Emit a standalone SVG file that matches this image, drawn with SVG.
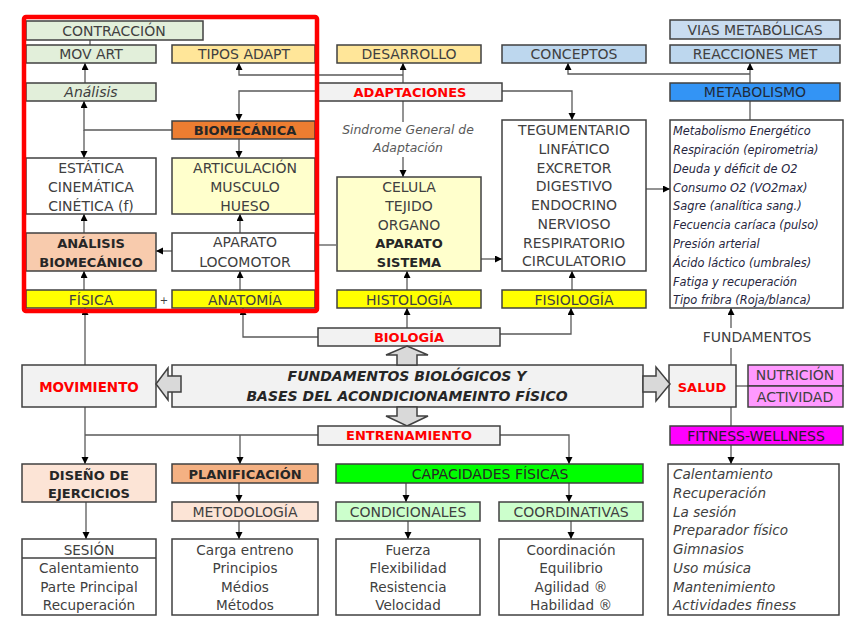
<svg xmlns="http://www.w3.org/2000/svg" width="848" height="636" viewBox="0 0 848 636">
<defs>
<marker id="ah" markerUnits="userSpaceOnUse" markerWidth="8" markerHeight="8" refX="7" refY="3.5" orient="auto"><path d="M0,0 L7,3.5 L0,7 z" fill="#000"/></marker>
<style>
rect.bx{stroke:#404040;stroke-width:1.5}
text{font-family:"DejaVu Sans","Liberation Sans",sans-serif;font-size:14px;fill:#404040;text-anchor:middle}
text.b{font-weight:bold;font-size:13px;fill:#262626}
text.r{font-weight:bold;font-size:13px;fill:#ff0000}
text.li{font-size:13.6px}
text.it{font-style:italic}
text.ml{font-style:italic;font-size:11.4px;text-anchor:start;fill:#262640}
text.fl{font-style:italic;font-size:13.6px;text-anchor:start}
text.big{font-weight:bold;font-style:italic;font-size:14px;fill:#262626}
#connectors path{fill:none;stroke:#595959;stroke-width:1.3}
#connectors path.a{marker-end:url(#ah)}
.blk{fill:#d9d9d9;stroke:#404040;stroke-width:1.5}
</style>
</defs>
<rect width="848" height="636" fill="#fff"/>

<g id="connectors">
<path d="M90,40 V45"/>
<path class="a" d="M85,83 V63"/>
<path class="a" d="M172,130 H84 V101"/>
<path class="a" d="M84,130 V158"/>
<path class="a" d="M239,139 V158"/>
<path class="a" d="M84,233 V214"/>
<path class="a" d="M240,233 V214"/>
<path class="a" d="M172,251 H156"/>
<path class="a" d="M84,290 V271"/>
<path class="a" d="M240,290 V271"/>
<path class="a" d="M318,91 H239 V121"/>
<path class="a" d="M403,83 V63"/>
<path class="a" d="M403,75 H239 V63"/>
<path class="a" d="M502,91 H572 V120"/>
<path d="M403,101 V122"/>
<path class="a" d="M403,157 V177"/>
<path d="M314,245 H336"/>
<path class="a" d="M481,259 H502"/>
<path class="a" d="M646,189 H670"/>
<path class="a" d="M407,290 V271"/>
<path class="a" d="M572,290 V271"/>
<path class="a" d="M750,83 V63"/>
<path class="a" d="M750,74 H568 V63"/>
<path d="M750,101 V120"/>
<path class="a" d="M407,328 V308"/>
<path class="a" d="M500,334 H571 V308"/>
<path class="a" d="M318,337 H243 V308"/>
<path class="a" d="M85,365 V308"/>
<path d="M731,365 V348"/>
<path class="a" d="M731,328 V308"/>
<path d="M736,386 H748"/>
<path d="M731,407 V426"/>
<path class="a" d="M731,445 V464"/>
<path class="a" d="M500,435 H569 V464"/>
<path d="M318,435 H85"/>
<path class="a" d="M240,435 V464"/>
<path class="a" d="M85,407 V464"/>
<path class="a" d="M239,483 V502"/>
<path class="a" d="M239,521 V539"/>
<path class="a" d="M86,502 V539"/>
<path class="a" d="M406,483 V502"/>
<path class="a" d="M569,483 V502"/>
<path class="a" d="M408,521 V539"/>
<path class="a" d="M571,521 V539"/>
</g>

<g id="contraccion"><rect class="bx" x="26" y="21" width="177" height="19" fill="#e2efda"/><text x="114" y="35.5">CONTRACCIÓN</text></g>
<g id="movart"><rect class="bx" x="26" y="45" width="130" height="18" fill="#e2efda"/><text x="91" y="59">MOV ART</text></g>
<g id="tiposadapt"><rect class="bx" x="172" y="45" width="143" height="18" fill="#ffe699"/><text x="244" y="59">TIPOS ADAPT</text></g>
<g id="analisis"><rect class="bx" x="26" y="83" width="130" height="18" fill="#e2efda"/><text class="it" x="91" y="97">Análisis</text></g>
<g id="biomecanica"><rect class="bx" x="172" y="121" width="143" height="18" fill="#ed7d31"/><text class="b" x="245" y="135">BIOMECÁNICA</text></g>
<g id="estatica"><rect class="bx" x="26" y="158" width="130" height="56" fill="#fff"/><text x="91" y="173">ESTÁTICA</text><text x="91" y="192">CINEMÁTICA</text><text x="91" y="211">CINÉTICA (f)</text></g>
<g id="articulacion"><rect class="bx" x="172" y="158" width="143" height="56" fill="#ffffcc"/><text x="245" y="173">ARTICULACIÓN</text><text x="245" y="192">MUSCULO</text><text x="245" y="211">HUESO</text></g>
<g id="analisisbio"><rect class="bx" x="26" y="233" width="130" height="38" fill="#f8cbad"/><text class="b" x="91" y="248">ANÁLISIS</text><text class="b" x="91" y="267">BIOMECÁNICO</text></g>
<g id="aparatoloc"><rect class="bx" x="172" y="233" width="143" height="38" fill="#fff"/><text x="245" y="247">APARATO</text><text x="245" y="267">LOCOMOTOR</text></g>
<g id="fisica"><rect class="bx" x="26" y="290" width="130" height="18" fill="#ffff00"/><text x="91" y="305">FÍSICA</text></g>
<g id="anatomia"><rect class="bx" x="172" y="290" width="143" height="18" fill="#ffff00"/><text x="245" y="305">ANATOMÍA</text></g>
<text x="164" y="304" style="font-size:10px">+</text>

<g id="desarrollo"><rect class="bx" x="337" y="45" width="144" height="18" fill="#ffe699"/><text x="409" y="59">DESARROLLO</text></g>
<g id="adaptaciones"><rect class="bx" x="318" y="83" width="184" height="18" fill="#f2f2f2"/><text class="r" x="410" y="97">ADAPTACIONES</text></g>
<g id="sindrome"><text class="it" x="408" y="134" style="font-size:12.4px;fill:#595959">Sindrome General de</text><text class="it" x="408" y="152" style="font-size:12.4px;fill:#595959">Adaptación</text></g>
<g id="celula"><rect class="bx" x="337" y="177" width="144" height="94" fill="#ffffcc"/><text x="409" y="192">CELULA</text><text x="409" y="211">TEJIDO</text><text x="409" y="230">ORGANO</text><text class="b" x="409" y="248">APARATO</text><text class="b" x="409" y="267">SISTEMA</text></g>
<g id="histologia"><rect class="bx" x="337" y="290" width="144" height="18" fill="#ffff00"/><text x="409" y="305">HISTOLOGÍA</text></g>

<g id="conceptos"><rect class="bx" x="502" y="45" width="144" height="18" fill="#bdd7ee"/><text x="574" y="59">CONCEPTOS</text></g>
<g id="tegumentario"><rect class="bx" x="502" y="120" width="144" height="151" fill="#fff"/><text x="574" y="135">TEGUMENTARIO</text><text x="574" y="154">LINFÁTICO</text><text x="574" y="172.5">EXCRETOR</text><text x="574" y="191">DIGESTIVO</text><text x="574" y="210">ENDOCRINO</text><text x="574" y="229">NERVIOSO</text><text x="574" y="247.5">RESPIRATORIO</text><text x="574" y="266">CIRCULATORIO</text></g>
<g id="fisiologia"><rect class="bx" x="502" y="290" width="144" height="18" fill="#ffff00"/><text x="574" y="305">FISIOLOGÍA</text></g>

<g id="vias"><rect class="bx" x="670" y="20" width="170" height="19" fill="#c9dcf0"/><text x="755" y="35">VIAS METABÓLICAS</text></g>
<g id="reacciones"><rect class="bx" x="670" y="45" width="170" height="18" fill="#bdd7ee"/><text x="755" y="59">REACCIONES MET</text></g>
<g id="metabolismo"><rect class="bx" x="670" y="83" width="170" height="18" fill="#3394f5"/><text x="755" y="97" style="fill:#1f2a3a">METABOLISMO</text></g>
<g id="metablist"><rect class="bx" x="670" y="120" width="173" height="188" fill="#fff"/>
<text class="ml" x="673" y="135">Metabolismo Energético</text>
<text class="ml" x="673" y="154">Respiración (epirometria)</text>
<text class="ml" x="673" y="173">Deuda y déficit de O2</text>
<text class="ml" x="673" y="191.5">Consumo O2 (VO2max)</text>
<text class="ml" x="673" y="210">Sagre (analítica sang.)</text>
<text class="ml" x="673" y="229">Fecuencia caríaca (pulso)</text>
<text class="ml" x="673" y="248">Presión arterial</text>
<text class="ml" x="673" y="267">Ácido láctico (umbrales)</text>
<text class="ml" x="673" y="285.5">Fatiga y recuperación</text>
<text class="ml" x="673" y="304">Tipo fribra (Roja/blanca)</text>
</g>

<g id="biologia"><rect class="bx" x="318" y="328" width="182" height="18" fill="#f2f2f2"/><text class="r" x="409" y="342">BIOLOGÍA</text></g>
<g id="fundamentos"><text x="757" y="342">FUNDAMENTOS</text></g>

<g id="movimiento"><rect class="bx" x="22" y="365" width="134" height="42" fill="#f2f2f2"/><text class="r" x="89" y="392" style="font-size:13.5px">MOVIMIENTO</text></g>
<g id="main"><rect class="bx" x="172" y="365" width="471" height="42" fill="#f2f2f2"/><text class="big" x="407" y="381">FUNDAMENTOS BIOLÓGICOS Y</text><text class="big" x="407" y="401">BASES DEL ACONDICIONAMEINTO FÍSICO</text></g>
<g id="salud"><rect class="bx" x="669" y="365" width="67" height="42" fill="#f2f2f2"/><text class="r" x="702" y="392">SALUD</text></g>
<g id="nutricion"><rect class="bx" x="748" y="365" width="95" height="21" fill="#ff99ff"/><text x="795" y="380">NUTRICIÓN</text></g>
<g id="actividad"><rect class="bx" x="748" y="386" width="95" height="21" fill="#ff99ff"/><text x="795" y="402">ACTIVIDAD</text></g>

<g id="arrows">
<polygon class="blk" points="156,384 168,368 168,376 181,376 181,392 168,392 168,400"/>
<polygon class="blk" points="670,384 656,367 656,376 643,376 643,392 656,392 656,401"/>
<polygon class="blk" points="407,346 428,355 417,355 417,365 397,365 397,355 386,355"/>
<polygon class="blk" points="407,426 428,416 417,416 417,407 397,407 397,416 386,416"/>
</g>

<g id="entrenamiento"><rect class="bx" x="318" y="426" width="182" height="19" fill="#f2f2f2"/><text class="r" x="409" y="440">ENTRENAMIENTO</text></g>
<g id="fitness"><rect class="bx" x="670" y="426" width="173" height="19" fill="#ff00ff"/><text x="756" y="441" style="fill:#2a1a2a">FITNESS-WELLNESS</text></g>

<g id="diseno"><rect class="bx" x="22" y="464" width="134" height="38" fill="#fce4d6"/><text class="b" x="89" y="480">DISEÑO DE</text><text class="b" x="89" y="498">EJERCICIOS</text></g>
<g id="planificacion"><rect class="bx" x="172" y="464" width="146" height="19" fill="#f4b183"/><text class="b" x="245" y="479">PLANIFICACIÓN</text></g>
<g id="metodologia"><rect class="bx" x="172" y="502" width="146" height="19" fill="#fce4d6"/><text x="245" y="517">METODOLOGÍA</text></g>
<g id="capacidades"><rect class="bx" x="336" y="464" width="307" height="19" fill="#00ff00"/><text x="490" y="479" style="fill:#262626">CAPACIDADES FÍSICAS</text></g>
<g id="condicionales"><rect class="bx" x="336" y="502" width="144" height="19" fill="#ccffcc"/><text x="408" y="517">CONDICIONALES</text></g>
<g id="coordinativas"><rect class="bx" x="499" y="502" width="144" height="19" fill="#ccffcc"/><text x="571" y="517">COORDINATIVAS</text></g>

<g id="sesion"><rect class="bx" x="22" y="539" width="134" height="76" fill="#fff"/><path d="M22,558 H156" stroke="#404040" stroke-width="1.5"/><text class="li" x="89" y="555">SESIÓN</text><text class="li" x="89" y="573">Calentamiento</text><text class="li" x="89" y="592">Parte Principal</text><text class="li" x="89" y="610">Recuperación</text></g>
<g id="carga"><rect class="bx" x="172" y="539" width="146" height="76" fill="#fff"/><text class="li" x="245" y="555">Carga entreno</text><text class="li" x="245" y="573">Principios</text><text class="li" x="245" y="592">Médios</text><text class="li" x="245" y="610">Métodos</text></g>
<g id="fuerza"><rect class="bx" x="336" y="539" width="144" height="76" fill="#fff"/><text class="li" x="408" y="555">Fuerza</text><text class="li" x="408" y="573">Flexibilidad</text><text class="li" x="408" y="592">Resistencia</text><text class="li" x="408" y="610">Velocidad</text></g>
<g id="coordinacion"><rect class="bx" x="499" y="539" width="144" height="76" fill="#fff"/><text class="li" x="571" y="555">Coordinación</text><text class="li" x="571" y="573">Equilibrio</text><text class="li" x="571" y="592">Agilidad ®</text><text class="li" x="571" y="610">Habilidad ®</text></g>
<g id="fitlist"><rect class="bx" x="668" y="464" width="171" height="151" fill="#fff"/>
<text class="fl" x="673" y="479">Calentamiento</text>
<text class="fl" x="673" y="498">Recuperación</text>
<text class="fl" x="673" y="516.5">La sesión</text>
<text class="fl" x="673" y="535">Preparador físico</text>
<text class="fl" x="673" y="554">Gimnasios</text>
<text class="fl" x="673" y="573">Uso música</text>
<text class="fl" x="673" y="591.5">Mantenimiento</text>
<text class="fl" x="673" y="610">Actividades finess</text>
</g>

<rect id="frame" x="24" y="17" width="293" height="294" rx="2" fill="none" stroke="#ff0000" stroke-width="4.5"/>
</svg>
